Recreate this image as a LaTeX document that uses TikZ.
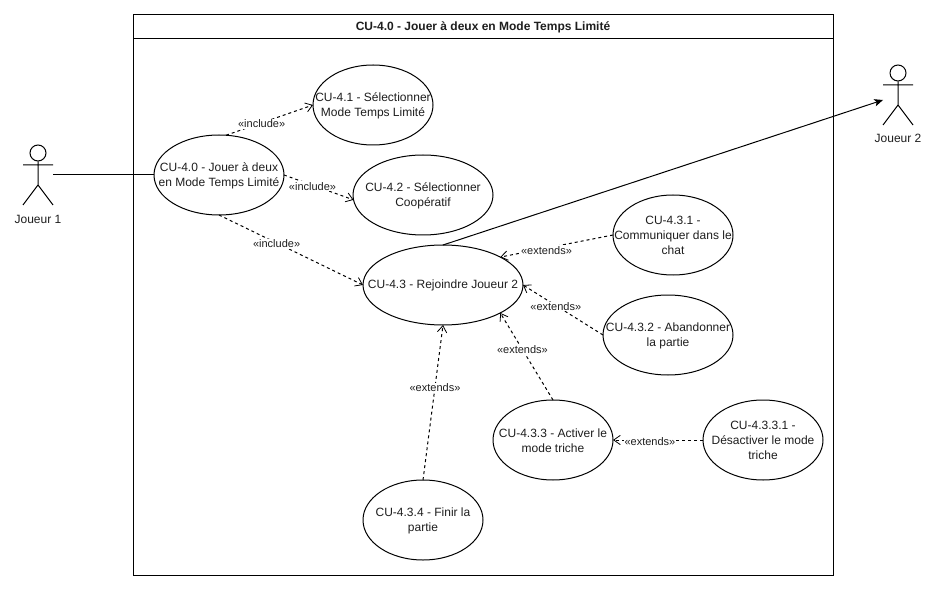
\documentclass[tikz,border=0pt]{standalone}
\usepackage{fontspec}
\setmainfont{Liberation Sans}
\usetikzlibrary{shapes.geometric,arrows.meta}
\definecolor{txt}{RGB}{30,30,30}
% text that does not influence the ellipse's size
\newcommand{\uctext}[1]{\raisebox{-3pt}[0pt][0pt]{\makebox[0pt]{\parbox[c]{180pt}{\centering\fontsize{9}{11.25}\selectfont #1}}}}
\tikzset{
  uc/.style={draw=black,ellipse,minimum height=60pt,inner sep=0pt,outer sep=0pt,text=txt,line width=.75pt},
  ucs/.style={uc,minimum width=90pt},
  ucm/.style={uc,minimum width=97.5pt},
  ucl/.style={uc,minimum width=105pt},
  ucx/.style={uc,minimum width=120pt},
  rel/.style={draw=black,dash pattern=on 2.25pt off 2.25pt,line width=.75pt,-{Straight Barb[length=5pt,width=7pt,line width=.6pt]}},
  assoc/.style={draw=black,line width=.75pt},
  assocarrow/.style={assoc,-{Stealth[length=6.5pt,width=5.5pt,inset=1.5pt]}},
  lab/.style={fill=white,inner sep=.6pt,yshift=-.8pt,font=\fontsize{8.25}{10}\selectfont,text=txt},
  actorlab/.style={font=\fontsize{9}{11}\selectfont,text=txt,inner sep=0pt},
  head/.style={draw=black,circle,minimum size=12pt,inner sep=0pt,line width=.75pt},
  limb/.style={draw=black,line width=.75pt},
}
\begin{document}
\begin{tikzpicture}[x=.75pt,y=-.75pt]
\useasboundingbox[fill=white] (0,0) rectangle (937,591);
% frame
\node[draw=black,line width=.75pt,minimum width=525pt,minimum height=420pt,inner sep=0pt] (frame) at (483,295) {};
\coordinate (tl) at (133,38.5);
\coordinate (tr) at (833,38.5);
\draw[limb] (tl) -- (tr);
\node[font=\bfseries\fontsize{9}{11}\selectfont,text=txt,inner sep=0pt] (title) at (483,27) {CU-4.0 - Jouer à deux en Mode Temps Limité};
% use cases
\node[ucm] (e0) at (219,175) {\uctext{CU-4.0 - Jouer à deux\\en Mode Temps Limité}};
\node[ucs] (e1) at (373,105) {\uctext{CU-4.1 - Sélectionner\\Mode Temps Limité}};
\node[ucl] (e2) at (423,195) {\uctext{CU-4.2 - Sélectionner\\Coopératif}};
\node[ucx] (e3) at (443,285) {\uctext{CU-4.3 - Rejoindre Joueur 2}};
\node[ucs] (e431) at (673,235) {\uctext{CU-4.3.1 -\\Communiquer dans le\\chat}};
\node[ucm] (e432) at (668,335) {\uctext{CU-4.3.2 - Abandonner\\la partie}};
\node[ucs] (e433) at (553,440) {\uctext{CU-4.3.3 - Activer le\\mode triche}};
\node[ucs] (e4331) at (763,440) {\uctext{CU-4.3.3.1 -\\Désactiver le mode\\triche}};
\node[ucs] (e434) at (423,520) {\uctext{CU-4.3.4 - Finir la\\partie}};
% actor 1
\node[head] (h1) at (38,153) {};
\coordinate (a1l) at (23,165);
\coordinate (a1r) at (53,165);
\coordinate (a1c) at (38,185);
\coordinate (a1fl) at (23,205);
\coordinate (a1fr) at (53,205);
\coordinate (a1p) at (53,175);
\draw[limb] (h1) -- (a1c) (a1l) -- (a1r) (a1fl) -- (a1c) -- (a1fr);
\node[actorlab] (n1) at (38,219) {Joueur 1};
% actor 2
\node[head] (h2) at (898,73) {};
\coordinate (a2l) at (883,85);
\coordinate (a2r) at (913,85);
\coordinate (a2c) at (898,105);
\coordinate (a2fl) at (883,125);
\coordinate (a2fr) at (913,125);
\coordinate (a2p) at (883,100);
\draw[limb] (h2) -- (a2c) (a2l) -- (a2r) (a2fl) -- (a2c) -- (a2fr);
\node[actorlab] (n2) at (898,138) {Joueur 2};
% associations
\draw[assoc] (a1p) -- (e0.west);
\draw[assocarrow] (e3.north) -- (a2p);
% relations
\draw[rel] (e0.80) -- (e1.west) node[lab,pos=.41] {«include»};
\draw[rel] (e0.east) -- (e2.184) node[lab,pos=.41] {«include»};
\draw[rel] (e0.south) -- (e3.west) node[lab,pos=.40] {«include»};
\draw[rel] (e431.west) -- (e3.26) node[lab,pos=.59,yshift=-.8pt] {«extends»};
\draw[rel] (e432.west) -- (e3.east) node[lab,pos=.59] {«extends»};
\draw[rel] (e433.north) -- (e3.-26) node[lab,pos=.58,yshift=.8pt] {«extends»};
\draw[rel] (e434.north) -- (e3.south) node[lab,pos=.60] {«extends»};
\draw[rel] (e4331.west) -- (e433.east) node[lab,pos=.59] {«extends»};
\end{tikzpicture}
\end{document}
